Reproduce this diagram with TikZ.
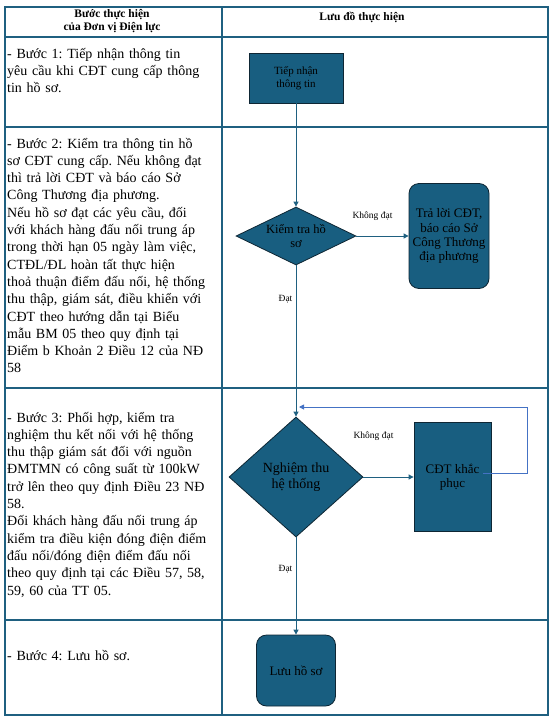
\documentclass[tikz,border=0pt]{standalone}
\usepackage{fontspec}
\setmainfont{Liberation Serif}
\usepackage{tikz}
\usetikzlibrary{shapes, arrows.meta, positioning, calc}
\definecolor{tablecol}{RGB}{31, 96, 128}
\definecolor{boxcol}{RGB}{24, 94, 128}
\definecolor{edgecol}{RGB}{14, 38, 52}
\definecolor{loopcol}{RGB}{68, 114, 196}
\newcommand{\jline}[1]{\makebox[211pt][s]{#1}}
\frenchspacing

\begin{document}
\begin{tikzpicture}[x=1pt, y=-1pt,
    grid/.style={draw=tablecol, line width=1.1pt},
    stepbox/.style={draw=edgecol, fill=boxcol, line width=0.8pt,
                    inner sep=0pt, align=center},
    roundbox/.style={stepbox, rounded corners=10pt},
    check/.style={stepbox, diamond, aspect=2},
    arrow/.style={-{Triangle[length=5pt, width=5pt]}, draw=tablecol, line width=0.9pt},
    note/.style={font=\fontsize{9.5}{11}\selectfont, inner sep=0pt},
    head/.style={font=\fontsize{11.5}{13}\selectfont\bfseries, align=center},
    steptext/.style={anchor=base west, text width=240pt, inner sep=0pt,
                     align=left, font=\fontsize{14}{17.3}\selectfont},
]
  \useasboundingbox (0,0) rectangle (552,718);

  % table
  \draw[grid] (5,7) rectangle (548,715);
  \draw[grid] (222,7) -- (222,715);
  \foreach \y in {37,127,388,620}
    \draw[grid] (5,\y) -- (548,\y);

  \node[head] (hleft)  at (112,21) {Bước thực hiện\\của Đơn vị Điện lực};
  \node[head] (hright) at (362,17) {Lưu đồ thực hiện};

  % steps
  \node[steptext] (s1) at (7,58) {- Bước 1: Tiếp nhận thông tin\\yêu cầu khi CĐT cung cấp thông\\tin hồ sơ.};
  \node[steptext] (s2) at (7,148) {\jline{- Bước 2: Kiểm tra thông tin hồ}\\
    \jline{sơ CĐT cung cấp. Nếu không đạt}\\
    \jline{thì trả lời CĐT và báo cáo Sở}\\
    Công Thương địa phương.\\
    \jline{Nếu hồ sơ đạt các yêu cầu, đối}\\
    \jline{với khách hàng đấu nối trung áp}\\
    \jline{trong thời hạn 05 ngày làm việc,}\\
    \jline{CTĐL/ĐL hoàn tất thực hiện}\\
    \jline{thoả thuận điểm đấu nối, hệ thống}\\
    \jline{thu thập, giám sát, điều khiển với}\\
    \jline{CĐT theo hướng dẫn tại Biểu}\\
    \jline{mẫu BM 05 theo quy định tại}\\
    \jline{Điểm b Khoản 2 Điều 12 của NĐ}\\
    58};
  \node[steptext] (s3) at (7,422) {- Bước 3: Phối hợp, kiểm tra\\nghiệm thu kết nối với hệ thống\\thu thập giám sát đối với nguồn\\ĐMTMN có công suất từ 100kW\\trở lên theo quy định Điều 23 NĐ\\58.\\Đối khách hàng đấu nối trung áp\\kiểm tra điều kiện đóng điện điểm\\đấu nối/đóng điện điểm đấu nối\\theo quy định tại các Điều 57, 58,\\59, 60 của TT 05.};
  \node[steptext] (s4) at (7,660) {- Bước 4: Lưu hồ sơ.};

  % flow chart
  \node[stepbox, minimum width=94pt, minimum height=50pt,
        font=\fontsize{11}{12.5}\selectfont] (recv) at (296,78) {Tiếp nhận\\thông tin};
  \node[check, minimum width=120pt, minimum height=58pt,
        font=\fontsize{12.5}{14}\selectfont] (check) at (296,236) {Kiểm tra hồ\\sơ};
  \node[roundbox, minimum width=80pt, minimum height=105pt,
        font=\fontsize{13}{14.2}\selectfont] (reply) at (449,236) {Trả lời CĐT,\\báo cáo Sở\\Công Thương\\địa phương};
  \node[check, aspect=1.1, minimum width=134pt, minimum height=120pt,
        font=\fontsize{14}{16}\selectfont] (accept) at (296,477) {Nghiệm thu\\hệ thống};
  \node[stepbox, minimum width=77pt, minimum height=109pt,
        font=\fontsize{13}{14.5}\selectfont] (fix) at (452.5,477) {CĐT khắc\\phục};
  \node[roundbox, minimum width=79pt, minimum height=71pt,
        font=\fontsize{13}{14}\selectfont] (store) at (296,670.5) {Lưu hồ sơ};

  \draw[arrow] (recv) -- (check);
  \draw[arrow] (check) -- (reply);
  \draw[arrow] (check) -- (accept);
  \draw[arrow] (accept) -- (fix);
  \draw[arrow] (accept) -- (store);

  \coordinate (back) at (299,407);
  \draw[arrow, draw=loopcol] ([shift={(-8,-4)}]fix.east) -- ++(44,0) |- (back);

  \node[note] (fail1) at (372.5,216) {Không đạt};
  \node[note] (pass1) at (285.5,299) {Đạt};
  \node[note] (fail2) at (373.5,436) {Không đạt};
  \node[note] (pass2) at (285.5,569) {Đạt};
\end{tikzpicture}
\end{document}
